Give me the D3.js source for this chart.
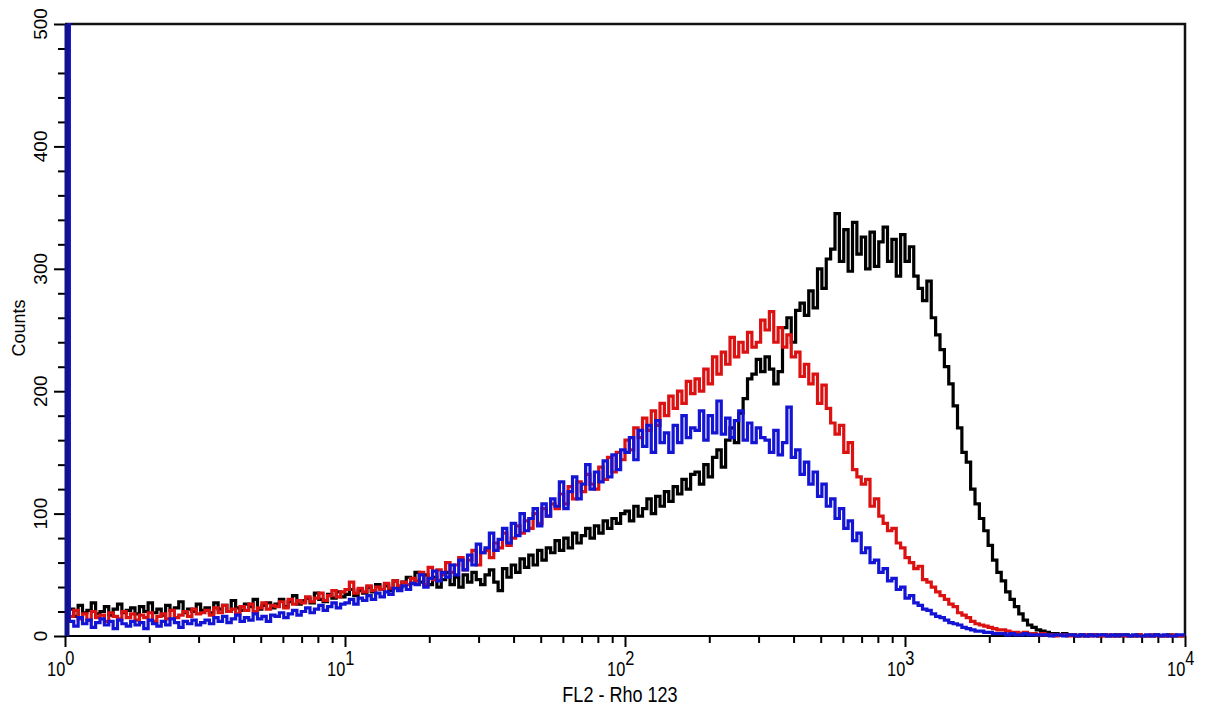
<!DOCTYPE html>
<html>
<head>
<meta charset="utf-8">
<script src="https://cdn.jsdelivr.net/npm/d3@7"></script>
<style>
  body { margin: 0; background: #fff; }
  text { font-family: "Liberation Sans", Arial, sans-serif; fill: #000; }
</style>
</head>
<body>
<svg id="chart" width="1205" height="711"></svg>
<script>
// histogram counts, 256 channels over 4 decades (10^0 .. 10^4)
var blackCounts = [
  258,22,16,25,19,21,27,18,20,24,17,22,26,19,21,23,
  18,24,20,27,19,22,17,25,21,23,28,19,22,20,26,21,
  23,19,27,22,25,20,29,23,21,26,24,30,22,25,27,23,
  26,30,24,28,33,26,29,31,27,35,30,28,34,31,36,32,
  34,38,33,37,35,40,36,42,38,41,37,45,40,44,48,43,
  52,44,50,42,48,40,46,52,42,48,40,50,44,52,46,42,
  50,54,44,37,55,48,58,52,63,56,66,58,70,62,72,68,
  78,70,80,72,84,76,82,88,80,90,84,94,88,96,92,100,
  102,94,106,98,104,112,100,114,106,118,110,122,116,128,120,132,
  134,124,140,130,146,152,138,160,170,158,182,194,210,214,226,216,
  228,218,206,216,252,260,240,266,272,262,282,268,300,284,308,316,
  345,306,332,298,338,312,326,300,330,302,322,334,306,324,294,328,
  306,318,294,284,274,290,260,246,234,220,206,188,170,150,142,120,
  108,96,86,74,62,52,45,36,30,24,18,13,9,7,5,4,
  3,2,2,1,2,1,1,0,1,0,1,1,0,1,0,0,
  1,0,1,0,0,1,0,0,0,1,0,0,1,0,0,0
];
var redCounts = [
  250,16,21,14,18,13,20,15,17,12,19,16,14,20,15,18,
  13,17,15,19,12,16,18,14,21,15,17,20,16,22,18,19,
  21,17,23,19,25,20,22,18,24,21,26,20,23,27,22,25,
  24,28,23,30,26,29,27,32,28,31,35,29,33,37,32,36,
  38,44,35,39,36,41,37,40,38,43,39,45,41,44,42,47,
  45,52,42,56,46,54,50,60,52,58,64,54,62,70,58,68,
  70,64,76,72,84,74,80,90,84,94,88,100,92,104,98,108,
  104,116,108,122,112,126,118,132,124,120,138,128,146,134,150,144,
  160,152,170,162,178,168,184,172,190,180,196,186,200,190,208,198,
  210,200,218,206,228,214,232,222,244,228,240,232,248,236,240,258,
  250,265,240,252,236,246,228,232,212,222,206,214,190,205,186,174,
  165,172,150,158,136,130,124,128,106,112,98,92,86,88,76,72,
  64,60,55,57,46,44,40,36,33,30,26,24,19,17,15,12,
  10,9,8,7,6,5,5,4,3,3,2,3,2,2,1,2,
  1,1,0,1,1,0,1,0,0,1,0,1,0,0,1,0,
  0,1,0,0,0,1,0,0,1,0,0,0,0,1,0,0
];
var blueCounts = [
  600,12,8,15,10,13,7,11,14,9,12,6,13,10,8,12,
  9,11,6,13,10,8,12,9,14,11,7,12,10,13,9,11,
  13,10,15,12,16,11,14,17,12,15,13,18,14,16,12,17,
  16,19,15,18,21,17,20,23,19,22,25,21,24,27,23,26,
  27,30,26,31,29,33,30,35,32,36,34,39,37,41,38,43,
  42,50,40,47,53,45,52,48,58,50,62,54,66,58,75,68,
  72,84,70,79,88,76,92,82,100,86,96,104,90,108,98,112,
  106,126,104,118,130,112,124,140,120,134,126,143,130,148,136,152,
  150,162,144,168,155,172,150,176,158,166,150,172,158,180,162,170,
  168,184,160,180,166,192,165,178,162,176,184,160,174,158,170,162,
  160,150,168,148,158,187,146,152,132,142,124,134,114,124,106,112,
  96,104,88,94,78,84,68,72,60,62,52,55,45,47,38,40,
  31,33,27,25,22,21,18,16,15,13,11,10,9,7,6,5,
  4,4,3,3,2,2,2,1,2,1,1,2,1,1,1,1,
  1,0,1,1,0,1,1,0,1,0,1,0,1,1,0,1,
  0,1,1,0,1,0,0,1,0,1,0,1,0,0,1,1
];
var seriesColors = ["#000000", "#dc1212", "#1414d4"];
var xDomain = [1, 10000];
var yTicks = [0, 100, 200, 300, 400, 500];
var xLabel = "FL2 - Rho 123";
var yLabel = "Counts";

var svg = d3.select("#chart");
var plotL = 65, plotR = 1185, plotT = 24, plotB = 636;

var x = d3.scaleLog().domain(xDomain).range([plotL, plotR]);
var y = d3.scaleLinear().domain([0, 500]).range([plotB, plotT]);

// clip for the curves
svg.append("defs").append("clipPath").attr("id", "plotClip")
  .append("rect").attr("x", plotL - 3).attr("y", plotT - 1)
  .attr("width", plotR - plotL + 6).attr("height", plotB - plotT + 4);

// x axis with log minor ticks
var xAxis = d3.axisBottom(x).tickValues(x.ticks()).tickSize(6).tickFormat("");
var gx = svg.append("g").attr("transform", "translate(0," + plotB + ")").call(xAxis);
gx.select(".domain").attr("stroke-width", 2.2).attr("d", "M" + plotL + ",0H" + plotR);
gx.selectAll(".tick line").attr("stroke-width", 2)
  .attr("y2", function(d) { return Math.abs(Math.log10(d) % 1) < 1e-9 ? 11 : 7; });

// x tick labels 10^n
var decades = x.ticks().filter(function(d) { return Math.abs(Math.log10(d) % 1) < 1e-9; });
decades.forEach(function(d) {
  var g = svg.append("g")
    .attr("transform", "translate(" + x(d) + ",676) scale(0.78,1)");
  var t = g.append("text").attr("x", -23).attr("font-size", "21px");
  t.append("tspan").text("10");
  t.append("tspan").attr("dy", -11).text(Math.round(Math.log10(d)));
});

// y axis, minor every 20
var yAxis = d3.axisLeft(y).tickValues(d3.range(0, 501, 20)).tickSize(6).tickFormat("");
var gy = svg.append("g").attr("transform", "translate(" + plotL + ",0)").call(yAxis);
gy.selectAll(".tick line").attr("stroke-width", 2)
  .attr("x2", function(d) { return d % 100 === 0 ? -11 : -7; });

yTicks.forEach(function(v) {
  svg.append("text")
    .attr("transform", "translate(47," + y(v) + ") rotate(-90)")
    .attr("text-anchor", "middle")
    .attr("font-size", "19px")
    .text(v);
});

// frame top and right
svg.append("path")
  .attr("d", "M" + plotL + "," + plotT + "H" + plotR + "V" + plotB)
  .attr("fill", "none").attr("stroke", "#111").attr("stroke-width", 2.5);

// axis titles
svg.append("text")
  .attr("transform", "translate(25,328) rotate(-90)")
  .attr("text-anchor", "middle").attr("font-size", "18px")
  .text(yLabel);
svg.append("g").attr("transform", "translate(620,702) scale(0.82,1)")
  .append("text").attr("text-anchor", "middle").attr("font-size", "22px")
  .text(xLabel);

// histogram curves
function drawHist(counts, color) {
  var n = counts.length;
  var pts = counts.map(function(c, i) { return [Math.pow(10, 4 * i / n), c]; });
  pts.push([xDomain[1], counts[n - 1]]);
  var line = d3.line()
    .x(function(d) { return x(d[0]); })
    .y(function(d) { return y(d[1]); })
    .curve(d3.curveStepAfter);
  svg.append("path")
    .datum(pts)
    .attr("clip-path", "url(#plotClip)")
    .attr("d", line)
    .attr("fill", "none")
    .attr("stroke", color)
    .attr("stroke-width", 3.2);
}
drawHist(blackCounts, seriesColors[0]);
drawHist(redCounts, seriesColors[1]);
drawHist(blueCounts, seriesColors[2]);

// the overflow spike in the first channel sits on the y axis and reads as a solid navy bar
gy.select(".domain").raise()
  .attr("d", "M2," + plotB + "V" + plotT)
  .attr("stroke", "#12128a").attr("stroke-width", 5);
gy.raise();
</script>
</body>
</html>
